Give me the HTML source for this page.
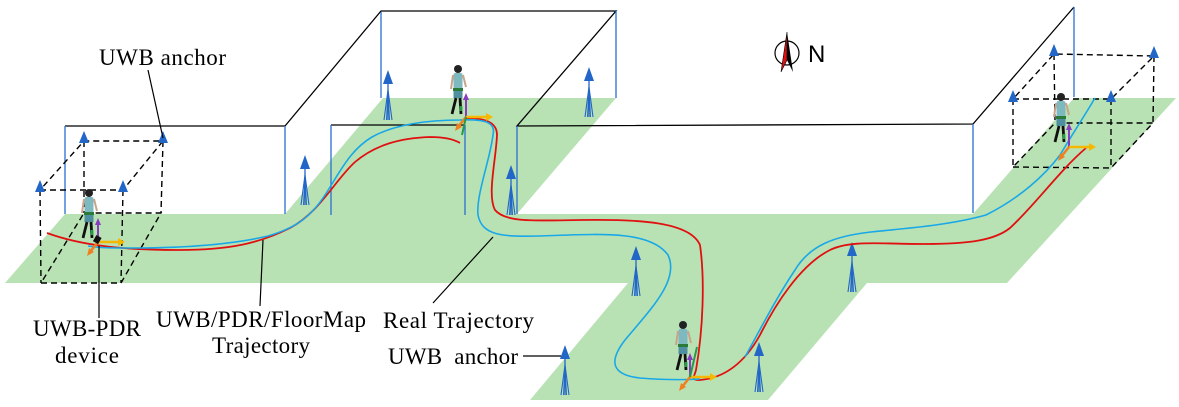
<!DOCTYPE html>
<html><head><meta charset="utf-8"><style>
html,body{margin:0;padding:0;background:#fff;}
svg{display:block;}
text{font-family:"Liberation Serif",serif;font-size:23px;fill:#000;}
</style></head><body>
<svg width="1179" height="407" viewBox="0 0 1179 407" xmlns="http://www.w3.org/2000/svg">
<defs>
<g id="anc">
  <polygon points="0,0 -5,14 5,14" fill="#2266c8"/>
  <line x1="0" y1="10" x2="0" y2="50" stroke="#2266c8" stroke-width="1.3"/>
  <line x1="0" y1="20" x2="-4" y2="50" stroke="#2266c8" stroke-width="1.1"/>
  <line x1="0" y1="20" x2="4" y2="50" stroke="#2266c8" stroke-width="1.1"/>
  <line x1="0" y1="22" x2="-1.5" y2="50" stroke="#2266c8" stroke-width="1"/>
  <line x1="0" y1="22" x2="1.5" y2="50" stroke="#2266c8" stroke-width="1"/>
</g>
<g id="ancs">
  <polygon points="0,0 -5,12 5,12" fill="#2266c8"/>
</g>
<g id="person">
  <circle cx="0" cy="0" r="4" fill="#222"/>
  <rect x="-4.5" y="4" width="9" height="16" rx="2" fill="#7fb9c0"/>
  <rect x="-5" y="19" width="10" height="3" fill="#2a7a3a"/>
  <rect x="-4.5" y="22" width="9" height="7" fill="#4f8fa0"/>
  <line x1="-2" y1="29" x2="-6" y2="45" stroke="#111" stroke-width="2.8"/>
  <line x1="2" y1="29" x2="3" y2="45" stroke="#111" stroke-width="2.8"/>
  <line x1="3" y1="37" x2="3" y2="42" stroke="#2a9a4a" stroke-width="2.8"/>
  <line x1="-5" y1="6" x2="-7" y2="20" stroke="#c9a48a" stroke-width="2"/>
  <line x1="5" y1="6" x2="8" y2="18" stroke="#c9a48a" stroke-width="2"/>
</g>
<g id="axes">
  <line x1="0" y1="0" x2="0" y2="-20" stroke="#8a3cc0" stroke-width="2"/>
  <polygon points="0,-24 -3,-17 3,-17" fill="#8a3cc0"/>
  <line x1="0" y1="0" x2="22" y2="0" stroke="#f5b800" stroke-width="2.5"/>
  <polygon points="27,0 20,-4 20,4" fill="#f5b800"/>
  <line x1="0" y1="0" x2="-8" y2="10" stroke="#f07f20" stroke-width="2.5"/>
  <polygon points="-11,14 -9,6 -4,10" fill="#f07f20"/>
</g>
</defs>

<polygon fill="#b9e2b4" points="5,283 65,214 285,214 383,98 616,98 517,214 973,214 1074,98 1176,98 1007,283 867,283 768,400 530,400 628,283"/>

<g stroke="#000" stroke-width="1.3" fill="none">
  <polyline points="65,126 285,126 381,11 616,11 517,126 973,124 1074,7"/>
  <line x1="331" y1="125" x2="465" y2="125"/>
</g>
<g stroke="#2a6fd0" stroke-width="1.3">
  <line x1="65" y1="126" x2="65" y2="214"/>
  <line x1="285" y1="126" x2="285" y2="214"/>
  <line x1="381" y1="12" x2="381" y2="98"/>
  <line x1="616" y1="10" x2="616" y2="98"/>
  <line x1="331" y1="125" x2="331" y2="215"/>
  <line x1="465" y1="125" x2="465" y2="215"/>
  <line x1="517" y1="126" x2="517" y2="214"/>
  <line x1="973" y1="124" x2="973" y2="213"/>
  <line x1="1074" y1="7" x2="1074" y2="97"/>
</g>

<g stroke="#000" stroke-width="1.4" stroke-dasharray="6,4" fill="none">
  <polygon points="40,190 123,190 163,141 84,141"/>
  <polygon points="41,283 121,283 161,213 84,213"/>
  <line x1="40" y1="190" x2="41" y2="283"/><line x1="123" y1="190" x2="121" y2="283"/>
  <line x1="84" y1="141" x2="84" y2="213"/><line x1="163" y1="141" x2="161" y2="213"/>
</g>
<g stroke="#000" stroke-width="1.4" stroke-dasharray="6,4" fill="none">
  <polygon points="1013,99 1111,99 1154,56 1054,54"/>
  <polygon points="1013,167 1111,168 1153,123 1055,123"/>
  <line x1="1013" y1="99" x2="1013" y2="167"/><line x1="1111" y1="99" x2="1111" y2="168"/>
  <line x1="1054" y1="54" x2="1055" y2="123"/><line x1="1154" y1="56" x2="1153" y2="123"/>
</g>
<use href="#ancs" x="40" y="180"/><use href="#ancs" x="123" y="180"/>
<use href="#ancs" x="84" y="131"/><use href="#ancs" x="163" y="131"/>
<use href="#ancs" x="1013" y="90"/><use href="#ancs" x="1111" y="90"/>
<use href="#ancs" x="1054" y="44"/><use href="#ancs" x="1154" y="46"/>

<use href="#anc" x="388" y="70"/>
<use href="#anc" x="305" y="155"/>
<use href="#anc" x="589" y="67"/>
<use href="#anc" x="511" y="165"/>
<use href="#anc" x="565" y="345"/>
<use href="#anc" x="636" y="246"/>
<use href="#anc" x="852" y="242"/>
<use href="#anc" x="759" y="342"/>

<path fill="none" stroke="#e01010" stroke-width="1.8" d="M47,233 C80,245 120,250 180,250 C230,250 260,243 290,228 C320,212 335,180 355,162 C375,145 400,138 430,137 C445,137 455,140 460,143"/>
<path fill="none" stroke="#e01010" stroke-width="1.8" d="M465,118 C485,118 497,122 497,135 C496,160 487,195 495,210 C505,222 530,221 580,220 C640,219 690,222 700,245 C705,280 703,330 696,370 C694,378 690,380 700,380 C725,378 745,362 760,335 C775,305 800,265 830,250 C850,240 880,244 925,244 C970,244 995,240 1010,228 C1035,205 1060,170 1086,148"/>
<path fill="none" stroke="#18a8e8" stroke-width="1.6" d="M88,246 C100,248 110,248 130,248 C180,248 230,245 268,236 C295,228 310,218 325,195 C340,172 350,150 372,137 C395,124 430,120 460,120 C485,119 496,122 493,135 C490,160 476,195 478,215 C482,235 500,237 540,236 C600,234 650,230 668,255 C680,280 650,310 625,340 C608,362 612,375 640,378 C665,380 683,380 700,379"/>
<path fill="none" stroke="#18a8e8" stroke-width="1.6" d="M745,357 C760,330 775,300 795,270 C810,245 835,236 871,232 C910,228 950,225 986,215 C1020,198 1045,175 1060,155 C1075,130 1085,115 1095,98"/>

<use href="#person" x="89" y="193"/>
<use href="#axes" x="98" y="242"/>
<rect x="94" y="236" width="6" height="7" fill="#111" transform="rotate(30 97 240)"/>
<use href="#person" x="458" y="69"/>
<use href="#axes" x="466" y="117"/>
<line x1="466" y1="117" x2="462" y2="135" stroke="#2a9a4a" stroke-width="2"/>
<use href="#person" x="1061" y="97"/>
<use href="#axes" x="1069" y="147"/>
<use href="#person" x="683" y="325"/>
<use href="#axes" x="690" y="377"/>
<line x1="690" y1="377" x2="697" y2="347" stroke="#2a9a4a" stroke-width="2"/>

<circle cx="787" cy="53" r="12" fill="none" stroke="#000" stroke-width="1.2"/>
<polygon points="787,32 781,72 787,60" fill="#e01010" stroke="#000" stroke-width="0.6"/>
<polygon points="787,32 793,72 787,60" fill="#000"/>
<text x="808" y="62" style="font-family:'Liberation Sans',sans-serif;font-size:24px;">N</text>

<g stroke="#000" stroke-width="1.2">
  <line x1="148" y1="70" x2="163" y2="138"/>
  <line x1="99" y1="246" x2="99" y2="318"/>
  <line x1="263" y1="240" x2="260" y2="306"/>
  <line x1="493" y1="237" x2="433" y2="303"/>
  <line x1="523" y1="356" x2="561" y2="356"/>
</g>
<text x="99" y="65" textLength="127">UWB anchor</text>
<text x="33" y="336" textLength="108">UWB-PDR</text>
<text x="55" y="363" textLength="64">device</text>
<text x="156" y="327" textLength="210">UWB/PDR/FloorMap</text>
<text x="212" y="353" textLength="98">Trajectory</text>
<text x="383" y="328" textLength="151">Real Trajectory</text>
<text x="388" y="364" xml:space="preserve" textLength="130">UWB  anchor</text>
</svg>
</body></html>
